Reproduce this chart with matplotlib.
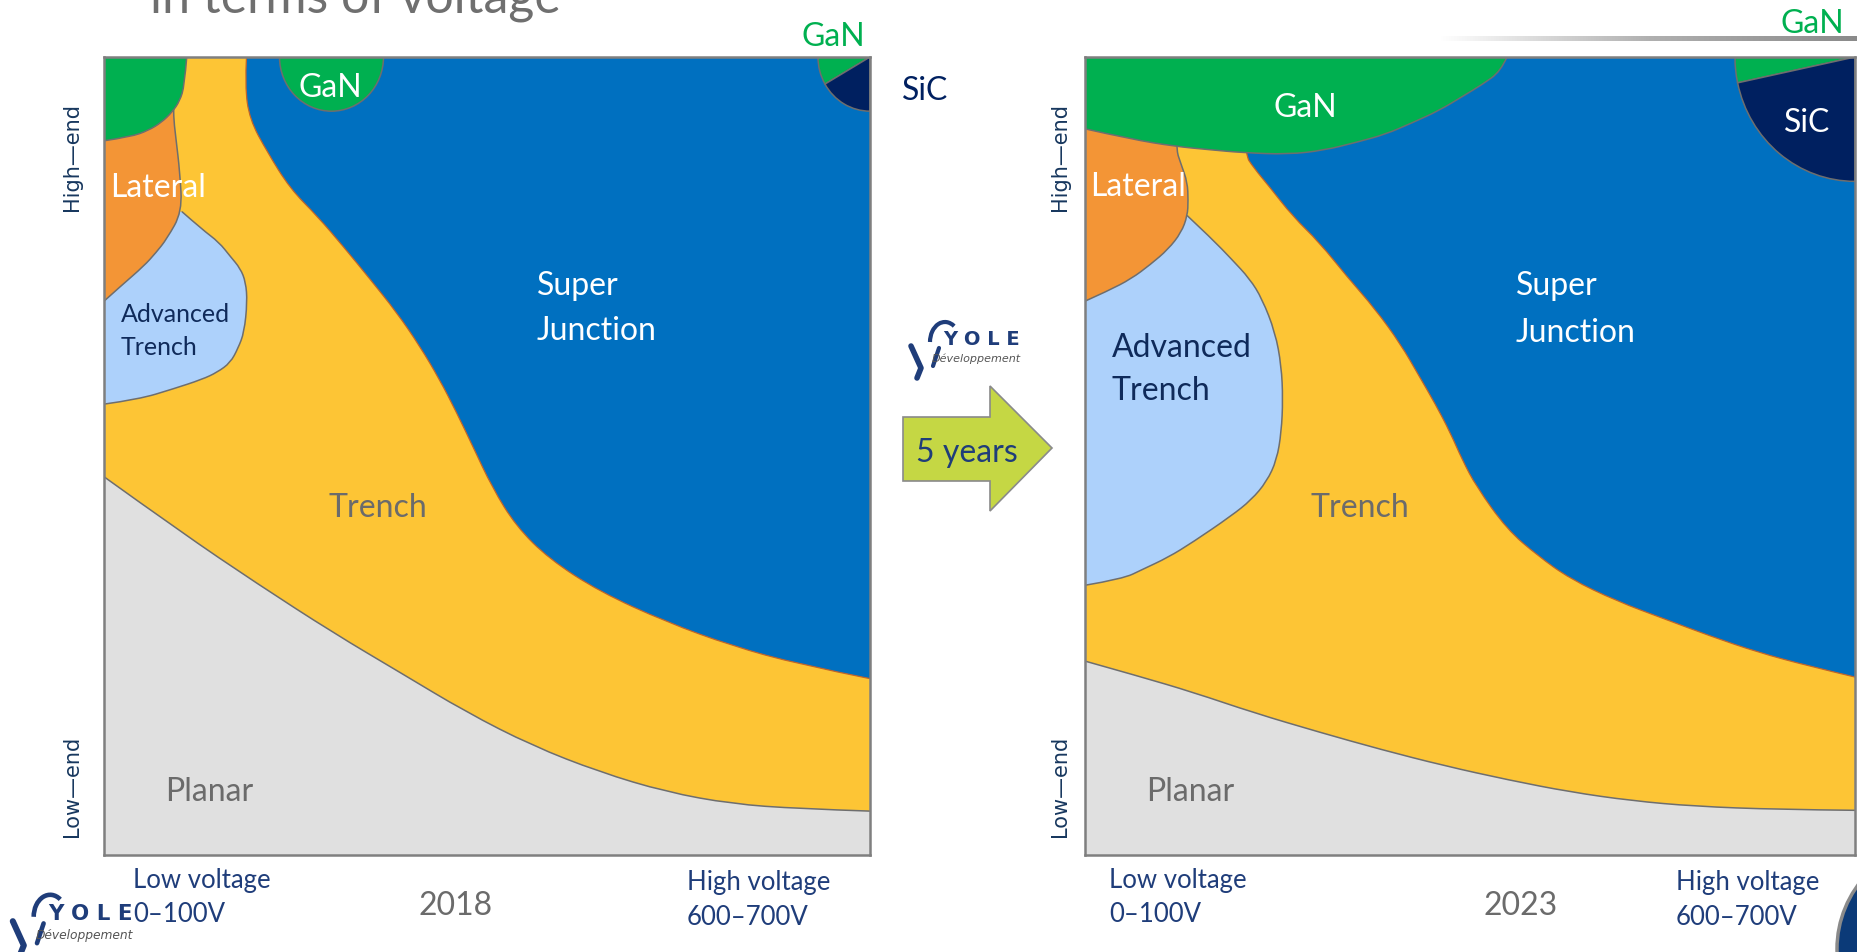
import numpy as np
import matplotlib.pyplot as plt
from matplotlib.patches import Wedge, Polygon, Circle, Arc, PathPatch
from matplotlib.path import Path
from matplotlib.colors import LinearSegmentedColormap

W, H = 1858, 953
plt.rcParams['font.family'] = ['Lato', 'DejaVu Sans']

# colours of the regions
C_SJ = '#0070c0'
C_TRENCH = '#fdc535'
C_PLANAR = '#e0e0e0'
C_LATERAL = '#f39536'
C_ADV = '#add1fb'
C_GAN = '#00b050'
C_SIC = '#002060'
NAVY = '#1f3d7a'
GREY_TXT = '#6b6b6b'

# ---- region boundaries ----
# u = fraction of box width from the left, v = fraction of box height from the bottom

# 2018
sj_2018_u = [0.186, 0.184, 0.190, 0.213, 0.243, 0.278, 0.312, 0.347, 0.382, 0.412, 0.438,
             0.460, 0.481, 0.507, 0.538, 0.581, 0.647, 0.734, 0.820, 0.907, 1.000]
sj_2018_v = [1.000, 0.964, 0.922, 0.881, 0.835, 0.801, 0.763, 0.722, 0.680, 0.638, 0.596,
             0.555, 0.513, 0.460, 0.412, 0.371, 0.330, 0.292, 0.262, 0.239, 0.221]
planar_2018_u = [0.0, 0.100, 0.200, 0.300, 0.386, 0.473, 0.559, 0.647, 0.734, 0.820, 0.907, 1.0]
planar_2018_v = [0.474, 0.405, 0.340, 0.278, 0.229, 0.179, 0.137, 0.104, 0.079, 0.064, 0.058, 0.055]
gan_2018_u = [0.108, 0.105, 0.099, 0.089, 0.075, 0.058, 0.035, 0.0]
gan_2018_v = [1.0, 0.964, 0.945, 0.931, 0.918, 0.908, 0.900, 0.895]
lateral_2018_u = [0.090, 0.090, 0.094, 0.099, 0.102, 0.082, 0.068, 0.052, 0.022, 0.0]
lateral_2018_v = [1.000, 0.931, 0.897, 0.856, 0.806, 0.772, 0.755, 0.738, 0.713, 0.694]
adv_2018_u = [0.102, 0.128, 0.150, 0.165, 0.178, 0.185, 0.187, 0.183, 0.175, 0.165, 0.148,
              0.128, 0.090, 0.045, 0.0]
adv_2018_v = [0.806, 0.784, 0.768, 0.750, 0.735, 0.718, 0.693, 0.655, 0.635, 0.617, 0.605,
              0.596, 0.584, 0.571, 0.565]
gan_dot_2018 = (0.297, 52)       # centre (u on top edge), radius in px
corner_2018 = (52, 210)          # radius px, GaN/SiC split angle

# 2023
sj_2023_u = [0.200, 0.206, 0.220, 0.239, 0.270, 0.304, 0.340, 0.377, 0.410, 0.434, 0.455,
             0.474, 0.490, 0.508, 0.548, 0.588, 0.630, 0.691, 0.752, 0.813, 0.874, 0.939, 1.0]
sj_2023_v = [1.000, 0.880, 0.860, 0.838, 0.800, 0.768, 0.725, 0.684, 0.640, 0.600, 0.565,
             0.530, 0.495, 0.462, 0.408, 0.375, 0.346, 0.318, 0.296, 0.274, 0.254, 0.237, 0.223]
planar_2023_u = [0.0, 0.070, 0.140, 0.220, 0.304, 0.385, 0.466, 0.550, 0.630, 0.710, 0.792, 0.900, 1.0]
planar_2023_v = [0.243, 0.224, 0.204, 0.178, 0.154, 0.132, 0.112, 0.094, 0.079, 0.068, 0.061, 0.057, 0.056]
gan_2023_u = [0.548, 0.540, 0.515, 0.491, 0.460, 0.426, 0.390, 0.352, 0.310, 0.264, 0.206,
              0.160, 0.117, 0.060, 0.0]
gan_2023_v = [1.0, 0.982, 0.965, 0.951, 0.933, 0.918, 0.903, 0.893, 0.883, 0.878, 0.880,
              0.884, 0.888, 0.897, 0.910]
lateral_2023_u = [0.117, 0.117, 0.125, 0.133, 0.134, 0.133, 0.125, 0.108, 0.085, 0.060, 0.030, 0.0]
lateral_2023_v = [1.000, 0.888, 0.865, 0.843, 0.820, 0.801, 0.780, 0.759, 0.740, 0.722, 0.707, 0.694]
adv_2023_u = [0.133, 0.165, 0.190, 0.214, 0.230, 0.247, 0.255, 0.257, 0.255, 0.249, 0.236,
              0.216, 0.190, 0.140, 0.108, 0.075, 0.049, 0.0]
adv_2023_v = [0.801, 0.772, 0.747, 0.722, 0.697, 0.655, 0.613, 0.571, 0.530, 0.495, 0.468,
              0.445, 0.425, 0.392, 0.373, 0.358, 0.346, 0.338]
corner_2023 = (120, 192)

years = ['2018', '2023']

fig = plt.figure(figsize=(W / 100, H / 100), dpi=100)
fig.patch.set_facecolor('white')


def px_axes(left, top, right, bottom, **kw):
    return fig.add_axes([left / W, 1 - bottom / H, (right - left) / W, (bottom - top) / H], **kw)


def curve(u, v):
    # smooth path: the read points act as quadratic bezier control points
    pts = list(zip(u, v))
    verts, codes = [pts[0]], [Path.MOVETO]
    for i in range(1, len(pts) - 1):
        if i == len(pts) - 2:
            end = pts[i + 1]
        else:
            end = ((pts[i][0] + pts[i + 1][0]) / 2, (pts[i][1] + pts[i + 1][1]) / 2)
        verts += [pts[i], end]
        codes += [Path.CURVE3, Path.CURVE3]
    return verts, codes


def region(ax, u, v, pre, post, color, z, edge_color='#6e6e6e', edge_lw=1.1):
    cv, cc = curve(u, v)
    verts = list(pre) + cv + list(post) + [(0, 0)]
    codes = ([Path.MOVETO] + [Path.LINETO] * (len(pre) - 1) if pre else []) \
        + ([Path.LINETO] + cc[1:] if pre else cc) + [Path.LINETO] * len(post) + [Path.CLOSEPOLY]
    ax.add_patch(PathPatch(Path(verts, codes), facecolor=color, lw=0, zorder=z))
    ax.add_patch(PathPatch(Path(cv, cc), fill=False, edgecolor=edge_color, lw=edge_lw,
                           zorder=z + 0.5, capstyle='round'))


def draw_panel(ax, box_w, sj, planar, adv, lateral, gan, corner, dot=None):
    ax.set_xlim(0, 1)
    ax.set_ylim(0, 1)
    ax.set_xticks([])
    ax.set_yticks([])
    ax.set_facecolor(C_SJ)

    region(ax, sj[0], sj[1], [(0, 1)], [(1, 0), (0, 0)], C_TRENCH, 1, '#c0642a', 0.9)
    region(ax, planar[0], planar[1], [], [(1, 0), (0, 0)], C_PLANAR, 2)
    region(ax, adv[0], adv[1], [], [(0, adv[1][0])], C_ADV, 3)
    region(ax, lateral[0], lateral[1], [(0, 1)], [], C_LATERAL, 4)
    region(ax, gan[0], gan[1], [(0, 1)], [], C_GAN, 5)

    if dot is not None:
        ax.add_patch(Wedge((dot[0], 1), dot[1] / box_w, 180, 360, facecolor=C_GAN,
                           edgecolor='#6e6e6e', lw=1.1, zorder=6))
    r = corner[0] / box_w
    ax.add_patch(Wedge((1, 1), r, 180, corner[1], facecolor=C_GAN,
                       edgecolor='#6e6e6e', lw=1.1, zorder=6))
    ax.add_patch(Wedge((1, 1), r, corner[1], 270, facecolor=C_SIC,
                       edgecolor='#6e6e6e', lw=1.1, zorder=6))
    for s in ax.spines.values():
        s.set_color('#7f7f7f')
        s.set_linewidth(1.8)
        s.set_zorder(30)


ax1 = px_axes(104, 58, 870, 856)
draw_panel(ax1, 766, (sj_2018_u, sj_2018_v), (planar_2018_u, planar_2018_v),
           (adv_2018_u, adv_2018_v), (lateral_2018_u, lateral_2018_v),
           (gan_2018_u, gan_2018_v), corner_2018, dot=gan_dot_2018)
ax2 = px_axes(1085, 58, 1855, 856)
draw_panel(ax2, 770, (sj_2023_u, sj_2023_v), (planar_2023_u, planar_2023_v),
           (adv_2023_u, adv_2023_v), (lateral_2023_u, lateral_2023_v),
           (gan_2023_u, gan_2023_v), corner_2023)

# ---- overlay in pixel coordinates for text and decorations ----
ov = fig.add_axes([0, 0, 1, 1], zorder=10)
ov.patch.set_alpha(0)
ov.axis('off')

# faded rule at top right
fade = LinearSegmentedColormap.from_list('fade', ['white', '#b0b0b0', '#8a8a8a'])
ov.imshow(np.linspace(0, 1, 256)[None, :], extent=(1440, 1858, 42, 37), cmap=fade,
          aspect='auto', zorder=1)
ov.set_xlim(0, W)
ov.set_ylim(H, 0)

ov.text(150, 13, 'in terms of voltage', fontsize=36, color='#6f6f6f', va='baseline')

# region labels
lab = dict(fontsize=23, va='baseline')
ov.text(330, 97, 'GaN', color='white', ha='center', **lab)
ov.text(110, 197, 'Lateral', color='white', **lab)
ov.text(121, 322, 'Advanced', color='#0f2a5a', fontsize=18, va='baseline')
ov.text(121, 355, 'Trench', color='#0f2a5a', fontsize=18, va='baseline')
ov.text(537, 295, 'Super', color='white', **lab)
ov.text(537, 340, 'Junction', color='white', **lab)
ov.text(378, 517, 'Trench', color=GREY_TXT, ha='center', **lab)
ov.text(209, 801, 'Planar', color=GREY_TXT, ha='center', **lab)

ov.text(1305, 117, 'GaN', color='white', ha='center', **lab)
ov.text(1807, 132, 'SiC', color='white', ha='center', **lab)
ov.text(1090, 196, 'Lateral', color='white', **lab)
ov.text(1112, 357, 'Advanced', color='#0f2a5a', **lab)
ov.text(1112, 400, 'Trench', color='#0f2a5a', **lab)
ov.text(1516, 295, 'Super', color='white', **lab)
ov.text(1516, 342, 'Junction', color='white', **lab)
ov.text(1360, 517, 'Trench', color=GREY_TXT, ha='center', **lab)
ov.text(1190, 801, 'Planar', color=GREY_TXT, ha='center', **lab)

# labels outside the first box
ov.text(833, 46, 'GaN', color=C_GAN, ha='center', **lab)
ov.text(925, 100, 'SiC', color=C_SIC, ha='center', **lab)
ov.text(1812, 33, 'GaN', color=C_GAN, ha='center', **lab)

# axis captions
for bx, yr, yx in ((133, years[0], 456), (1109, years[1], 1521)):
    ov.text(bx, 888, 'Low voltage', color=NAVY, fontsize=18.5, va='baseline')
    ov.text(bx, 922, '0–100V', color=NAVY, fontsize=18.5, va='baseline')
    ov.text(yx, 915, yr, color=GREY_TXT, fontsize=23, ha='center', va='baseline')
for hx in (687, 1676):
    ov.text(hx, 890, 'High voltage', color=NAVY, fontsize=18.5, va='baseline')
    ov.text(hx, 925, '600–700V', color=NAVY, fontsize=18.5, va='baseline')
for rx in (72, 1060):
    ov.text(rx, 157, 'High—end', color='#17375e', fontsize=15, family='DejaVu Sans',
            rotation=90, ha='center', va='center')
    ov.text(rx, 786, 'Low—end', color='#17375e', fontsize=15, family='DejaVu Sans',
            rotation=90, ha='center', va='center')

# "5 years" arrow
arrow = [(903, 418), (990, 418), (990, 387), (1052, 449), (990, 512), (990, 482), (903, 482)]
ov.add_patch(Polygon(arrow, closed=True, facecolor='#c5d744', edgecolor='#8a8a8a', lw=1.2))
ov.text(967, 462, '5 years', color=NAVY, fontsize=23, ha='center', va='baseline')


def logo(x, y, s):
    # x, y: left end and baseline of the YOLE lettering
    ov.text(x, y, 'Y O L E', fontsize=14 * s, fontweight='bold', color='#1f3d7a',
            family='DejaVu Sans', va='baseline')
    ov.text(x - 11 * s, y + 17 * s, 'Développement', fontsize=8 * s, style='italic',
            color='#555555', family='DejaVu Sans', va='baseline')
    ov.add_patch(Arc((x + 2 * s, y - 2 * s), 30 * s, 40 * s, theta1=180, theta2=300,
                     color='#1f3d7a', lw=3 * s))
    ov.plot([x - 10 * s, x - 4 * s], [y + 22 * s, y + 4 * s], color='#1f3d7a', lw=3 * s,
            solid_capstyle='round')
    ov.plot([x - 32 * s, x - 22 * s, x - 26 * s], [y + 2 * s, y + 24 * s, y + 34 * s],
            color='#1f3d7a', lw=4 * s, solid_capstyle='round')


logo(943, 345, 1.0)
logo(48, 920, 1.1)

# partial logo disc at bottom right
ov.add_patch(Circle((1945, 950), 108, facecolor='#0b3a78', edgecolor='#8a8a8a', lw=2.5))

fig.savefig('out.png', dpi=100)
